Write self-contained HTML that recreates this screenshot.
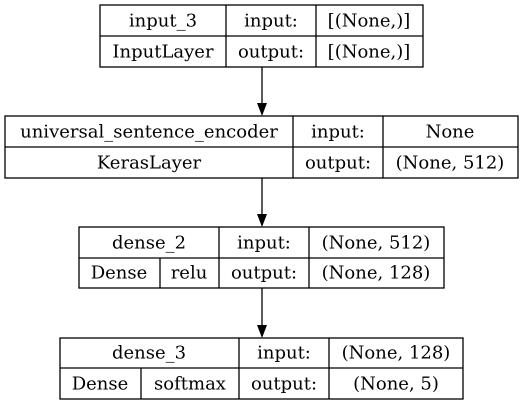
<!DOCTYPE html>
<html><head><meta charset="utf-8"><style>
html,body{margin:0;padding:0;background:#fff;width:525px;height:405px;overflow:hidden}
svg text{font-family:"DejaVu Serif","Liberation Serif",serif;font-size:18px;fill:#000;text-anchor:middle;dominant-baseline:central}
</style></head><body>
<svg width="525" height="405">
<g fill="none" stroke="#000" stroke-width="1.3">
<!-- box1 -->
<g>
<rect x="100" y="5" width="323" height="62"/>
<line x1="100" y1="36" x2="423" y2="36"/>
<line x1="226" y1="5" x2="226" y2="67"/><line x1="316" y1="5" x2="316" y2="67"/>
</g>
<g>
<rect x="5" y="116" width="513" height="62"/>
<line x1="5" y1="147" x2="518" y2="147"/>
<line x1="293" y1="116" x2="293" y2="178"/><line x1="383" y1="116" x2="383" y2="178"/>
</g>
<g>
<rect x="79" y="227" width="365" height="61"/>
<line x1="79" y1="258" x2="444" y2="258"/>
<line x1="219" y1="227" x2="219" y2="288"/><line x1="309" y1="227" x2="309" y2="288"/>
<line x1="160" y1="258" x2="160" y2="288"/>
</g>
<g>
<rect x="60" y="338" width="403" height="61"/>
<line x1="60" y1="368" x2="463" y2="368"/>
<line x1="239" y1="338" x2="239" y2="399"/><line x1="329" y1="338" x2="329" y2="399"/>
<line x1="141" y1="368" x2="141" y2="399"/>
</g>
<line x1="262" y1="67" x2="262" y2="104"/>
<line x1="262" y1="178" x2="262" y2="215"/>
<line x1="262" y1="288" x2="262" y2="326"/>
</g>
<g fill="#000">
<polygon points="257,103 267,103 262,116"/>
<polygon points="257,214 267,214 262,227"/>
<polygon points="257,325 267,325 262,338"/>
</g>
<text x="163" y="21">input_3</text>
<text x="271" y="21">input:</text>
<text x="369" y="21">[(None,)]</text>
<text x="163" y="52">InputLayer</text>
<text x="271" y="52">output:</text>
<text x="369" y="52">[(None,)]</text>

<text x="149" y="132">universal_sentence_encoder</text>
<text x="338" y="132">input:</text>
<text x="450" y="132">None</text>
<text x="149" y="163">KerasLayer</text>
<text x="338" y="163">output:</text>
<text x="450" y="163">(None, 512)</text>

<text x="149" y="243">dense_2</text>
<text x="264" y="243">input:</text>
<text x="376" y="243">(None, 512)</text>
<text x="119" y="273">Dense</text>
<text x="189" y="273">relu</text>
<text x="264" y="273">output:</text>
<text x="376" y="273">(None, 128)</text>

<text x="149" y="353">dense_3</text>
<text x="284" y="353">input:</text>
<text x="396" y="353">(None, 128)</text>
<text x="100" y="384">Dense</text>
<text x="190" y="384">softmax</text>
<text x="284" y="384">output:</text>
<text x="396" y="384">(None, 5)</text>
</svg>
</body></html>
